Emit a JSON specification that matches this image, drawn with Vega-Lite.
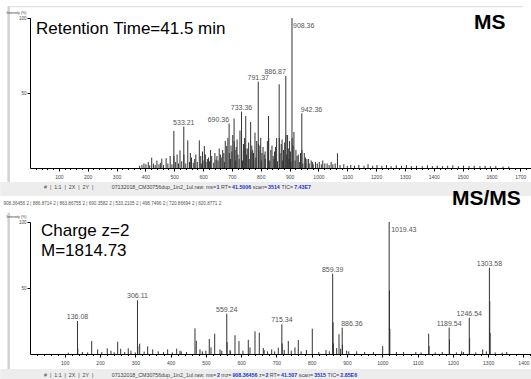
{
  "$schema": "https://vega.github.io/schema/vega-lite/v6.json",
  "background": "white",
  "padding": {"left": 0, "top": 5, "right": 0, "bottom": 0},
  "autosize": {"type": "pad"},
  "bounds": "flush",
  "spacing": 54,
  "config": {"view": {"stroke": null}, "font": "Liberation Sans"},
  "datasets": {
    "ms": [
      {"mz": 533.21, "i": 27.6, "lab": "533.21"},
      {"mz": 690.36, "i": 29.6, "lab": "690.36"},
      {"mz": 733.36, "i": 37.6, "lab": "733.36"},
      {"mz": 791.37, "i": 57.6, "lab": "791.37"},
      {"mz": 886.87, "i": 61.3, "lab": "886.87"},
      {"mz": 908.36, "i": 100, "lab": "908.36"},
      {"mz": 942.36, "i": 36.4, "lab": "942.36"},
      {"mz": 863.87, "i": 55.8}, {"mz": 498.75, "i": 24.7}, {"mz": 520, "i": 11.8},
      {"mz": 547, "i": 18.4}, {"mz": 587, "i": 18.4}, {"mz": 604.5, "i": 14.7},
      {"mz": 645, "i": 5.6}, {"mz": 682, "i": 14.7}, {"mz": 707.5, "i": 33},
      {"mz": 720.87, "i": 9}, {"mz": 748, "i": 34.7}, {"mz": 765, "i": 30.7},
      {"mz": 780, "i": 23.6}, {"mz": 804, "i": 10}, {"mz": 827, "i": 34.7},
      {"mz": 1066, "i": 9.8}, {"mz": 422, "i": 6.9}, {"mz": 457, "i": 6.2}, {"mz": 472, "i": 6.6},
      {"mz": 908.86, "i": 20}, {"mz": 887.37, "i": 22}, {"mz": 864.37, "i": 20},
      {"mz": 791.87, "i": 16}, {"mz": 733.86, "i": 12}, {"mz": 690.86, "i": 10},
      {"mz": 533.71, "i": 9}, {"mz": 942.86, "i": 12}, {"mz": 748.5, "i": 13},
      {"mz": 707.9, "i": 18}, {"mz": 827.5, "i": 20}, {"mz": 765.5, "i": 11}, {"mz": 499.25, "i": 8},
      {"mz": 395, "i": 3}, {"mz": 410, "i": 4}, {"mz": 440, "i": 5}, {"mz": 486, "i": 8},
      {"mz": 510, "i": 9}, {"mz": 560, "i": 7}, {"mz": 575, "i": 9}, {"mz": 615, "i": 6},
      {"mz": 630, "i": 8}, {"mz": 660, "i": 9}, {"mz": 668, "i": 12}, {"mz": 700, "i": 11},
      {"mz": 715, "i": 14}, {"mz": 740, "i": 16}, {"mz": 755, "i": 13}, {"mz": 772, "i": 12},
      {"mz": 786, "i": 18}, {"mz": 797, "i": 15}, {"mz": 812, "i": 9}, {"mz": 835, "i": 12},
      {"mz": 843, "i": 8}, {"mz": 851, "i": 14}, {"mz": 871, "i": 16}, {"mz": 879, "i": 12},
      {"mz": 893, "i": 22}, {"mz": 900, "i": 18}, {"mz": 915, "i": 24}, {"mz": 922, "i": 12},
      {"mz": 930, "i": 9}, {"mz": 951, "i": 10}, {"mz": 960, "i": 6}, {"mz": 975, "i": 5},
      {"mz": 990, "i": 4}, {"mz": 1003, "i": 4}, {"mz": 1015, "i": 5}, {"mz": 1030, "i": 3},
      {"mz": 1044, "i": 4}, {"mz": 1058, "i": 3},
      {"mz": 556, "i": 10}, {"mz": 571, "i": 6}, {"mz": 592, "i": 8}, {"mz": 598, "i": 11},
      {"mz": 608, "i": 9}, {"mz": 619, "i": 7}, {"mz": 626, "i": 12}, {"mz": 641, "i": 10},
      {"mz": 648, "i": 8}, {"mz": 656, "i": 13}, {"mz": 663, "i": 7}, {"mz": 672, "i": 10},
      {"mz": 677, "i": 18}, {"mz": 686, "i": 20}, {"mz": 697, "i": 15}, {"mz": 703, "i": 22},
      {"mz": 711, "i": 12}, {"mz": 718, "i": 19}, {"mz": 728, "i": 25}, {"mz": 744, "i": 20},
      {"mz": 751, "i": 9}, {"mz": 758, "i": 17}, {"mz": 769, "i": 15}, {"mz": 775, "i": 10},
      {"mz": 793, "i": 12}, {"mz": 800, "i": 20}, {"mz": 808, "i": 14}, {"mz": 815, "i": 11},
      {"mz": 823, "i": 18}, {"mz": 839, "i": 15}, {"mz": 848, "i": 11}, {"mz": 855, "i": 20},
      {"mz": 867, "i": 10}, {"mz": 874, "i": 19}, {"mz": 883, "i": 17}, {"mz": 890, "i": 9},
      {"mz": 897, "i": 13}, {"mz": 903, "i": 11}, {"mz": 912, "i": 15}, {"mz": 926, "i": 8},
      {"mz": 938, "i": 10}, {"mz": 955, "i": 7}, {"mz": 966, "i": 6}, {"mz": 979, "i": 4},
      {"mz": 380, "i": 1.5}, {"mz": 388, "i": 2}, {"mz": 402, "i": 2.5}, {"mz": 415, "i": 1.8},
      {"mz": 428, "i": 3}, {"mz": 434, "i": 2}, {"mz": 447, "i": 2.5}, {"mz": 452, "i": 3.5},
      {"mz": 463, "i": 2}, {"mz": 478, "i": 3}, {"mz": 492, "i": 2.5}, {"mz": 505, "i": 4},
      {"mz": 515, "i": 3}, {"mz": 526, "i": 4.5}, {"mz": 540, "i": 3}, {"mz": 553, "i": 4},
      {"mz": 566, "i": 3.5}, {"mz": 580, "i": 4}, {"mz": 594, "i": 3}, {"mz": 600, "i": 5},
      {"mz": 610, "i": 4}, {"mz": 622, "i": 4.5}, {"mz": 637, "i": 3.5}, {"mz": 652, "i": 5},
      {"mz": 674, "i": 4}, {"mz": 695, "i": 6}, {"mz": 712, "i": 5}, {"mz": 725, "i": 6},
      {"mz": 737, "i": 5}, {"mz": 760, "i": 6}, {"mz": 776, "i": 5}, {"mz": 783, "i": 7},
      {"mz": 802, "i": 5}, {"mz": 816, "i": 6}, {"mz": 831, "i": 5}, {"mz": 846, "i": 6},
      {"mz": 858, "i": 4.5}, {"mz": 876, "i": 5}, {"mz": 897.5, "i": 6}, {"mz": 905, "i": 4},
      {"mz": 919, "i": 5}, {"mz": 935, "i": 4}, {"mz": 946, "i": 3}, {"mz": 956, "i": 3.5},
      {"mz": 968, "i": 3}, {"mz": 982, "i": 2.5}, {"mz": 996, "i": 3}, {"mz": 1010, "i": 2.5},
      {"mz": 1022, "i": 3}, {"mz": 1037, "i": 2}, {"mz": 1050, "i": 2.5}, {"mz": 1075, "i": 2},
      {"mz": 1088, "i": 2.5}, {"mz": 1100, "i": 1.5}, {"mz": 1112, "i": 2}, {"mz": 1125, "i": 1.5},
      {"mz": 1140, "i": 2}, {"mz": 1158, "i": 1.5}, {"mz": 1172, "i": 2.5}, {"mz": 1188, "i": 1.5},
      {"mz": 1203, "i": 2}, {"mz": 1220, "i": 1.5}, {"mz": 1236, "i": 2}, {"mz": 1252, "i": 1.2},
      {"mz": 1270, "i": 1.8}, {"mz": 1288, "i": 1.5}, {"mz": 1305, "i": 2}, {"mz": 1322, "i": 1.3},
      {"mz": 1340, "i": 1.5}, {"mz": 1360, "i": 1.2}, {"mz": 1378, "i": 1.8}, {"mz": 1395, "i": 1.3},
      {"mz": 1412, "i": 1.6}, {"mz": 1430, "i": 1.2}, {"mz": 1448, "i": 1.5}, {"mz": 1466, "i": 1.8},
      {"mz": 1485, "i": 1.2}, {"mz": 1503, "i": 1.6}, {"mz": 1522, "i": 1.3}, {"mz": 1540, "i": 1.5},
      {"mz": 1560, "i": 1.2}, {"mz": 1578, "i": 1.4}, {"mz": 1596, "i": 1.1}, {"mz": 1615, "i": 1.3},
      {"mz": 1640, "i": 1}, {"mz": 1660, "i": 1}
    ],
    "msms": [
      {"mz": 136.08, "i": 25, "lab": "136.08"},
      {"mz": 306.11, "i": 40.7, "lab": "306.11"},
      {"mz": 559.24, "i": 30.5, "lab": "559.24"},
      {"mz": 715.34, "i": 22.5, "lab": "715.34"},
      {"mz": 859.39, "i": 60.8, "lab": "859.39"},
      {"mz": 886.36, "i": 20, "lab": "886.36"},
      {"mz": 1019.43, "i": 100, "lab": "1019.43"},
      {"mz": 1189.54, "i": 20, "lab": "1189.54"},
      {"mz": 1246.54, "i": 27.5, "lab": "1246.54"},
      {"mz": 1303.58, "i": 65.4, "lab": "1303.58"},
      {"mz": 176.3, "i": 9.8}, {"mz": 193.3, "i": 3.5}, {"mz": 220.5, "i": 4.3}, {"mz": 231, "i": 2.5},
      {"mz": 250, "i": 9.3}, {"mz": 258.5, "i": 4}, {"mz": 280, "i": 4.3}, {"mz": 287.7, "i": 2.5},
      {"mz": 312.4, "i": 7.8}, {"mz": 335, "i": 5.8}, {"mz": 349.2, "i": 3.5}, {"mz": 365, "i": 2},
      {"mz": 391.7, "i": 3.5}, {"mz": 417.2, "i": 4}, {"mz": 426.6, "i": 2.5}, {"mz": 469.1, "i": 19.4},
      {"mz": 472.8, "i": 10}, {"mz": 483.3, "i": 3.5}, {"mz": 509.6, "i": 11.4}, {"mz": 514.5, "i": 5},
      {"mz": 525, "i": 15.4}, {"mz": 540, "i": 3.5}, {"mz": 568.3, "i": 3}, {"mz": 582.5, "i": 14.2},
      {"mz": 593.8, "i": 9.8}, {"mz": 620.2, "i": 10.8}, {"mz": 625, "i": 5}, {"mz": 639.2, "i": 17.2},
      {"mz": 651.4, "i": 16.2}, {"mz": 662.7, "i": 4.5}, {"mz": 686.5, "i": 3.5}, {"mz": 705.2, "i": 4.8},
      {"mz": 733.6, "i": 9.8}, {"mz": 752.5, "i": 5}, {"mz": 761.9, "i": 10.6}, {"mz": 801.6, "i": 19.2},
      {"mz": 840.4, "i": 3}, {"mz": 870.7, "i": 4.5}, {"mz": 877.3, "i": 14.9}, {"mz": 899, "i": 2.5},
      {"mz": 927.4, "i": 2}, {"mz": 1001.1, "i": 6}, {"mz": 1131.5, "i": 15.4}, {"mz": 1225, "i": 2},
      {"mz": 1284.6, "i": 3.5}, {"mz": 1352.6, "i": 1.5},
      {"mz": 1020.43, "i": 48}, {"mz": 1021.43, "i": 19}, {"mz": 1304.58, "i": 40}, {"mz": 1305.58, "i": 16},
      {"mz": 860.39, "i": 24}, {"mz": 861.39, "i": 8}, {"mz": 1247.54, "i": 12}, {"mz": 1190.54, "i": 11},
      {"mz": 560.24, "i": 9}, {"mz": 307.11, "i": 6}, {"mz": 137.08, "i": 4}, {"mz": 716.34, "i": 8},
      {"mz": 887.36, "i": 7}, {"mz": 1132.5, "i": 6},
      {"mz": 110, "i": 1}, {"mz": 150, "i": 1.5}, {"mz": 165, "i": 1.2}, {"mz": 205, "i": 1.5},
      {"mz": 240, "i": 1.3}, {"mz": 270, "i": 1.5}, {"mz": 300, "i": 1.2}, {"mz": 325, "i": 1.8},
      {"mz": 380, "i": 1.5}, {"mz": 405, "i": 1.2}, {"mz": 430, "i": 2}, {"mz": 445, "i": 1.5},
      {"mz": 490, "i": 2}, {"mz": 500, "i": 2.5}, {"mz": 545, "i": 2.5}, {"mz": 570, "i": 2},
      {"mz": 605, "i": 2.5}, {"mz": 665, "i": 3}, {"mz": 675, "i": 2}, {"mz": 695, "i": 2},
      {"mz": 722, "i": 3}, {"mz": 742, "i": 2.5}, {"mz": 770, "i": 2}, {"mz": 785, "i": 3},
      {"mz": 820, "i": 1.5}, {"mz": 850, "i": 2}, {"mz": 882, "i": 4}, {"mz": 905, "i": 2},
      {"mz": 950, "i": 1.5}, {"mz": 975, "i": 1.5}, {"mz": 1040, "i": 1.5}, {"mz": 1060, "i": 1.5},
      {"mz": 1095, "i": 1.5}, {"mz": 1110, "i": 1.2}, {"mz": 1150, "i": 1.2}, {"mz": 1170, "i": 1.5},
      {"mz": 1210, "i": 1.2}, {"mz": 1230, "i": 1.5}, {"mz": 1265, "i": 1.2}, {"mz": 1295, "i": 2},
      {"mz": 1320, "i": 1.2}, {"mz": 1340, "i": 1}
    ]
  },
  "vconcat": [
    {
      "width": 501,
      "height": 150,
      "resolve": {"axis": {"x": "independent"}},
      "layer": [
        {
          "data": {"name": "ms"},
          "mark": {"type": "rule", "color": "#333333", "strokeWidth": 1},
          "encoding": {
            "x": {"field": "mz", "type": "quantitative", "scale": {"domain": [0, 1737], "nice": false, "zero": false},
              "axis": {"orient": "bottom", "values": [100, 200, 300, 400, 500, 600, 700, 800, 900, 1000, 1100, 1200, 1300, 1400, 1500, 1600, 1700],
                "format": "d", "title": null, "labelFontSize": 5, "labelColor": "#444", "tickColor": "#000", "tickSize": 3,
                "domainColor": "#000", "domainWidth": 1.2, "labelPadding": 3, "grid": false, "zindex": 1,
                "labelFlush": false, "labelOverlap": false}},
            "y": {"field": "i", "type": "quantitative", "scale": {"domain": [0, 100], "nice": false},
              "axis": {"values": [50, 100], "title": "Intensity (%)", "titleAngle": 0, "titleAlign": "left",
                "titleBaseline": "top", "titleX": -24, "titleY": -7.7, "titleFontSize": 3.6, "titleFontWeight": "normal",
                "titleColor": "#333", "labelFontSize": 4.5, "labelColor": "#444", "tickSize": 3, "tickColor": "#000",
                "domainColor": "#000", "grid": false, "labelPadding": 1, "zindex": 1}},
            "y2": {"datum": 0}
          }
        },
        {
          "data": {"values": [{}]},
          "mark": {"type": "rect", "color": "#ededed"},
          "encoding": {
            "x": {"datum": -103, "type": "quantitative", "scale": {"domain": [0, 1737], "nice": false, "zero": false},
              "axis": {"orient": "bottom", "values": [20, 40, 60, 80, 120, 140, 160, 180, 220, 240, 260, 280, 320, 340, 360, 380, 420, 440, 460, 480, 520, 540, 560, 580, 620, 640, 660, 680, 720, 740, 760, 780, 820, 840, 860, 880, 920, 940, 960, 980, 1020, 1040, 1060, 1080, 1120, 1140, 1160, 1180, 1220, 1240, 1260, 1280, 1320, 1340, 1360, 1380, 1420, 1440, 1460, 1480, 1520, 1540, 1560, 1580, 1620, 1640, 1660, 1680, 1720],
                "title": null, "labels": false, "domain": false, "grid": false, "tickSize": 1.5, "tickColor": "#000", "zindex": 1}},
            "x2": {"datum": 1737},
            "y": {"datum": -9.3, "type": "quantitative", "scale": {"domain": [0, 100], "nice": false}},
            "y2": {"datum": -18.7}
          }
        },
        {
          "data": {"values": [{}]},
          "mark": {"type": "rule", "color": "#dcdcdc", "strokeWidth": 1},
          "encoding": {
            "x": {"datum": -76, "type": "quantitative", "scale": {"domain": [0, 1737], "nice": false, "zero": false}, "axis": null},
            "x2": {"datum": 1709},
            "y": {"datum": 107.53, "type": "quantitative", "scale": {"domain": [0, 100], "nice": false}}
          }
        },
        {
          "data": {"values": [{}]},
          "mark": {"type": "rule", "color": "#d2d2d2", "strokeWidth": 2.5},
          "encoding": {
            "x": {"datum": -74, "type": "quantitative", "scale": {"domain": [0, 1737], "nice": false, "zero": false}, "axis": null},
            "y": {"datum": 107.53, "type": "quantitative", "scale": {"domain": [0, 100], "nice": false}},
            "y2": {"datum": -9.3}
          }
        },
        {
          "data": {"name": "ms"},
          "transform": [{"filter": {"field": "lab", "oneOf": ["533.21", "733.36", "791.37"]}}],
          "mark": {"type": "text", "align": "center", "baseline": "alphabetic", "dy": -2, "fontSize": 7, "color": "#555"},
          "encoding": {
            "x": {"field": "mz", "type": "quantitative", "scale": {"domain": [0, 1737], "nice": false, "zero": false}, "axis": null},
            "y": {"field": "i", "type": "quantitative", "scale": {"domain": [0, 100], "nice": false}},
            "text": {"field": "lab"}
          }
        },
        {
          "data": {"name": "ms"},
          "transform": [{"filter": {"field": "lab", "oneOf": ["690.36", "886.87"]}}],
          "mark": {"type": "text", "align": "right", "baseline": "alphabetic", "dy": -2, "dx": 0, "fontSize": 7, "color": "#555"},
          "encoding": {
            "x": {"field": "mz", "type": "quantitative", "scale": {"domain": [0, 1737], "nice": false, "zero": false}, "axis": null},
            "y": {"field": "i", "type": "quantitative", "scale": {"domain": [0, 100], "nice": false}},
            "text": {"field": "lab"}
          }
        },
        {
          "data": {"name": "ms"},
          "transform": [{"filter": {"field": "lab", "oneOf": ["942.36"]}}],
          "mark": {"type": "text", "align": "left", "baseline": "alphabetic", "dy": -1, "dx": -1, "fontSize": 7, "color": "#555"},
          "encoding": {
            "x": {"field": "mz", "type": "quantitative", "scale": {"domain": [0, 1737], "nice": false, "zero": false}, "axis": null},
            "y": {"field": "i", "type": "quantitative", "scale": {"domain": [0, 100], "nice": false}},
            "text": {"field": "lab"}
          }
        },
        {
          "data": {"name": "ms"},
          "transform": [{"filter": {"field": "lab", "oneOf": ["908.36"]}}],
          "mark": {"type": "text", "align": "left", "baseline": "top", "dy": 4, "dx": 1, "fontSize": 7, "color": "#555"},
          "encoding": {
            "x": {"field": "mz", "type": "quantitative", "scale": {"domain": [0, 1737], "nice": false, "zero": false}, "axis": null},
            "y": {"field": "i", "type": "quantitative", "scale": {"domain": [0, 100], "nice": false}},
            "text": {"field": "lab"}
          }
        },
        {
          "data": {"values": [{}]},
          "mark": {"type": "text", "text": "Retention Time=41.5 min", "align": "left", "baseline": "alphabetic", "fontSize": 17, "color": "#000"},
          "encoding": {
            "x": {"datum": 20.8, "type": "quantitative", "scale": {"domain": [0, 1737], "nice": false, "zero": false}, "axis": null},
            "y": {"datum": 89.3, "type": "quantitative", "scale": {"domain": [0, 100], "nice": false}}
          }
        },
        {
          "data": {"values": [{}]},
          "mark": {"type": "text", "text": "MS", "align": "left", "baseline": "alphabetic", "fontSize": 21, "fontWeight": "bold", "color": "#000"},
          "encoding": {
            "x": {"datum": 1539, "type": "quantitative", "scale": {"domain": [0, 1737], "nice": false, "zero": false}, "axis": null},
            "y": {"datum": 92.9, "type": "quantitative", "scale": {"domain": [0, 100], "nice": false}}
          }
        },
        {
          "data": {"values": [{}]},
          "mark": {"type": "text", "text": "#\u00a0\u00a0|\u00a0\u00a01:1\u00a0\u00a0|\u00a0\u00a02X\u00a0\u00a0|\u00a0\u00a02Y\u00a0\u00a0|", "align": "left", "baseline": "middle", "fontSize": 5.3, "color": "#444"},
          "encoding": {
            "x": {"datum": 48.5, "type": "quantitative", "scale": {"domain": [0, 1737], "nice": false, "zero": false}, "axis": null},
            "y": {"datum": -12.7, "type": "quantitative", "scale": {"domain": [0, 100], "nice": false}}
          }
        },
        {
          "data": {"values": [{}]},
          "mark": {"type": "text", "text": "07132018_CM30756dup_1in2_1ul.raw: ms=", "align": "left", "baseline": "middle", "fontSize": 5.3, "color": "#444"},
          "encoding": {
            "x": {"datum": 283.3, "type": "quantitative", "scale": {"domain": [0, 1737], "nice": false, "zero": false}, "axis": null},
            "y": {"datum": -12.7, "type": "quantitative", "scale": {"domain": [0, 100], "nice": false}}
          }
        },
        {
          "data": {"values": [{}]},
          "mark": {"type": "text", "text": "1", "align": "left", "baseline": "middle", "fontSize": 5.3, "fontWeight": "bold", "color": "#2233cc"},
          "encoding": {
            "x": {"datum": 646.6, "type": "quantitative", "scale": {"domain": [0, 1737], "nice": false, "zero": false}, "axis": null},
            "y": {"datum": -12.7, "type": "quantitative", "scale": {"domain": [0, 100], "nice": false}}
          }
        },
        {
          "data": {"values": [{}]},
          "mark": {"type": "text", "text": "RT=", "align": "left", "baseline": "middle", "fontSize": 5.3, "color": "#444"},
          "encoding": {
            "x": {"datum": 662, "type": "quantitative", "scale": {"domain": [0, 1737], "nice": false, "zero": false}, "axis": null},
            "y": {"datum": -12.7, "type": "quantitative", "scale": {"domain": [0, 100], "nice": false}}
          }
        },
        {
          "data": {"values": [{}]},
          "mark": {"type": "text", "text": "41.5006", "align": "left", "baseline": "middle", "fontSize": 5.3, "fontWeight": "bold", "color": "#2233cc"},
          "encoding": {
            "x": {"datum": 700.4, "type": "quantitative", "scale": {"domain": [0, 1737], "nice": false, "zero": false}, "axis": null},
            "y": {"datum": -12.7, "type": "quantitative", "scale": {"domain": [0, 100], "nice": false}}
          }
        },
        {
          "data": {"values": [{}]},
          "mark": {"type": "text", "text": "scan=", "align": "left", "baseline": "middle", "fontSize": 5.3, "color": "#444"},
          "encoding": {
            "x": {"datum": 772.4, "type": "quantitative", "scale": {"domain": [0, 1737], "nice": false, "zero": false}, "axis": null},
            "y": {"datum": -12.7, "type": "quantitative", "scale": {"domain": [0, 100], "nice": false}}
          }
        },
        {
          "data": {"values": [{}]},
          "mark": {"type": "text", "text": "3514", "align": "left", "baseline": "middle", "fontSize": 5.3, "fontWeight": "bold", "color": "#2233cc"},
          "encoding": {
            "x": {"datum": 825.2, "type": "quantitative", "scale": {"domain": [0, 1737], "nice": false, "zero": false}, "axis": null},
            "y": {"datum": -12.7, "type": "quantitative", "scale": {"domain": [0, 100], "nice": false}}
          }
        },
        {
          "data": {"values": [{}]},
          "mark": {"type": "text", "text": "TIC=", "align": "left", "baseline": "middle", "fontSize": 5.3, "color": "#444"},
          "encoding": {
            "x": {"datum": 871.8, "type": "quantitative", "scale": {"domain": [0, 1737], "nice": false, "zero": false}, "axis": null},
            "y": {"datum": -12.7, "type": "quantitative", "scale": {"domain": [0, 100], "nice": false}}
          }
        },
        {
          "data": {"values": [{}]},
          "mark": {"type": "text", "text": "7.43E7", "align": "left", "baseline": "middle", "fontSize": 5.3, "fontWeight": "bold", "color": "#2233cc"},
          "encoding": {
            "x": {"datum": 916, "type": "quantitative", "scale": {"domain": [0, 1737], "nice": false, "zero": false}, "axis": null},
            "y": {"datum": -12.7, "type": "quantitative", "scale": {"domain": [0, 100], "nice": false}}
          }
        }
      ]
    },
    {
      "width": 501,
      "height": 132,
      "resolve": {"axis": {"x": "independent"}},
      "layer": [
        {
          "data": {"name": "msms"},
          "mark": {"type": "rule", "color": "#333333", "strokeWidth": 1},
          "encoding": {
            "x": {"field": "mz", "type": "quantitative", "scale": {"domain": [1.5, 1421.5], "nice": false, "zero": false},
              "axis": {"orient": "bottom", "values": [100, 200, 300, 400, 500, 600, 700, 800, 900, 1000, 1100, 1200, 1300, 1400],
                "format": "d", "title": null, "labelFontSize": 5, "labelColor": "#444", "tickColor": "#000", "tickSize": 3,
                "domainColor": "#000", "domainWidth": 1.2, "labelPadding": 3, "grid": false, "zindex": 1,
                "labelFlush": false, "labelOverlap": false}},
            "y": {"field": "i", "type": "quantitative", "scale": {"domain": [0, 100], "nice": false},
              "axis": {"values": [50, 100], "title": "Intensity (%)", "titleAngle": 0, "titleAlign": "left",
                "titleBaseline": "top", "titleX": -24, "titleY": -7.7, "titleFontSize": 3.6, "titleFontWeight": "normal",
                "titleColor": "#333", "labelFontSize": 4.5, "labelColor": "#444", "tickSize": 3, "tickColor": "#000",
                "domainColor": "#000", "grid": false, "labelPadding": 1, "zindex": 1}},
            "y2": {"datum": 0}
          }
        },
        {
          "data": {"values": [{}]},
          "mark": {"type": "rect", "color": "#ededed"},
          "encoding": {
            "x": {"datum": -82.7, "type": "quantitative", "scale": {"domain": [1.5, 1421.5], "nice": false, "zero": false},
              "axis": {"orient": "bottom", "values": [20, 40, 60, 80, 120, 140, 160, 180, 220, 240, 260, 280, 320, 340, 360, 380, 420, 440, 460, 480, 520, 540, 560, 580, 620, 640, 660, 680, 720, 740, 760, 780, 820, 840, 860, 880, 920, 940, 960, 980, 1020, 1040, 1060, 1080, 1120, 1140, 1160, 1180, 1220, 1240, 1260, 1280, 1320, 1340, 1360, 1380, 1420],
                "title": null, "labels": false, "domain": false, "grid": false, "tickSize": 1.5, "tickColor": "#000", "zindex": 1}},
            "x2": {"datum": 1421.5},
            "y": {"datum": -11.4, "type": "quantitative", "scale": {"domain": [0, 100], "nice": false}},
            "y2": {"datum": -19.8}
          }
        },
        {
          "data": {"values": [{}]},
          "mark": {"type": "rule", "color": "#d2d2d2", "strokeWidth": 2.5},
          "encoding": {
            "x": {"datum": -58.9, "type": "quantitative", "scale": {"domain": [1.5, 1421.5], "nice": false, "zero": false}, "axis": null},
            "y": {"datum": 107, "type": "quantitative", "scale": {"domain": [0, 100], "nice": false}},
            "y2": {"datum": -11.4}
          }
        },
        {
          "data": {"name": "msms"},
          "transform": [{"filter": {"field": "lab", "oneOf": ["136.08", "306.11", "559.24", "715.34", "859.39", "1189.54", "1246.54", "1303.58"]}}],
          "mark": {"type": "text", "align": "center", "baseline": "alphabetic", "dy": -2, "fontSize": 7, "color": "#555"},
          "encoding": {
            "x": {"field": "mz", "type": "quantitative", "scale": {"domain": [1.5, 1421.5], "nice": false, "zero": false}, "axis": null},
            "y": {"field": "i", "type": "quantitative", "scale": {"domain": [0, 100], "nice": false}},
            "text": {"field": "lab"}
          }
        },
        {
          "data": {"name": "msms"},
          "transform": [{"filter": {"field": "lab", "oneOf": ["886.36"]}}],
          "mark": {"type": "text", "align": "left", "baseline": "alphabetic", "dy": -2, "dx": -1, "fontSize": 7, "color": "#555"},
          "encoding": {
            "x": {"field": "mz", "type": "quantitative", "scale": {"domain": [1.5, 1421.5], "nice": false, "zero": false}, "axis": null},
            "y": {"field": "i", "type": "quantitative", "scale": {"domain": [0, 100], "nice": false}},
            "text": {"field": "lab"}
          }
        },
        {
          "data": {"name": "msms"},
          "transform": [{"filter": {"field": "lab", "oneOf": ["1019.43"]}}],
          "mark": {"type": "text", "align": "left", "baseline": "top", "dy": 4, "dx": 2, "fontSize": 7, "color": "#555"},
          "encoding": {
            "x": {"field": "mz", "type": "quantitative", "scale": {"domain": [1.5, 1421.5], "nice": false, "zero": false}, "axis": null},
            "y": {"field": "i", "type": "quantitative", "scale": {"domain": [0, 100], "nice": false}},
            "text": {"field": "lab"}
          }
        },
        {
          "data": {"values": [{}]},
          "mark": {"type": "text", "text": "Charge z=2", "align": "left", "baseline": "alphabetic", "fontSize": 17, "color": "#000"},
          "encoding": {
            "x": {"datum": 32.7, "type": "quantitative", "scale": {"domain": [1.5, 1421.5], "nice": false, "zero": false}, "axis": null},
            "y": {"datum": 89.4, "type": "quantitative", "scale": {"domain": [0, 100], "nice": false}}
          }
        },
        {
          "data": {"values": [{}]},
          "mark": {"type": "text", "text": "M=1814.73", "align": "left", "baseline": "alphabetic", "fontSize": 17, "color": "#000"},
          "encoding": {
            "x": {"datum": 32.7, "type": "quantitative", "scale": {"domain": [1.5, 1421.5], "nice": false, "zero": false}, "axis": null},
            "y": {"datum": 74.2, "type": "quantitative", "scale": {"domain": [0, 100], "nice": false}}
          }
        },
        {
          "data": {"values": [{}]},
          "mark": {"type": "text", "text": "MS/MS", "align": "left", "baseline": "alphabetic", "fontSize": 21, "fontWeight": "bold", "color": "#000"},
          "encoding": {
            "x": {"datum": 1197.6, "type": "quantitative", "scale": {"domain": [1.5, 1421.5], "nice": false, "zero": false}, "axis": null},
            "y": {"datum": 112.9, "type": "quantitative", "scale": {"domain": [0, 100], "nice": false}}
          }
        },
        {
          "data": {"values": [{}]},
          "mark": {"type": "text", "text": "908.36456 2 | 886.8714 2 | 863.86755 2 | 690.3582 2 | 533.2105 2 | 498.7496 2 | 720.86694 2 | 820.8771 2", "align": "left", "baseline": "middle", "fontSize": 4.6, "color": "#555"},
          "encoding": {
            "x": {"datum": -73.9, "type": "quantitative", "scale": {"domain": [1.5, 1421.5], "nice": false, "zero": false}, "axis": null},
            "y": {"datum": 114, "type": "quantitative", "scale": {"domain": [0, 100], "nice": false}}
          }
        },
        {
          "data": {"values": [{}]},
          "mark": {"type": "text", "text": "#\u00a0\u00a0|\u00a0\u00a01:1\u00a0\u00a0|\u00a0\u00a02X\u00a0\u00a0|\u00a0\u00a02Y\u00a0\u00a0|", "align": "left", "baseline": "middle", "fontSize": 5.3, "color": "#444"},
          "encoding": {
            "x": {"datum": 41.2, "type": "quantitative", "scale": {"domain": [1.5, 1421.5], "nice": false, "zero": false}, "axis": null},
            "y": {"datum": -15.9, "type": "quantitative", "scale": {"domain": [0, 100], "nice": false}}
          }
        },
        {
          "data": {"values": [{}]},
          "mark": {"type": "text", "text": "07132018_CM30756dup_1in2_1ul.raw: ms=", "align": "left", "baseline": "middle", "fontSize": 5.3, "color": "#444"},
          "encoding": {
            "x": {"datum": 233.1, "type": "quantitative", "scale": {"domain": [1.5, 1421.5], "nice": false, "zero": false}, "axis": null},
            "y": {"datum": -15.9, "type": "quantitative", "scale": {"domain": [0, 100], "nice": false}}
          }
        },
        {
          "data": {"values": [{}]},
          "mark": {"type": "text", "text": "2", "align": "left", "baseline": "middle", "fontSize": 5.3, "fontWeight": "bold", "color": "#2233cc"},
          "encoding": {
            "x": {"datum": 531.5, "type": "quantitative", "scale": {"domain": [1.5, 1421.5], "nice": false, "zero": false}, "axis": null},
            "y": {"datum": -15.9, "type": "quantitative", "scale": {"domain": [0, 100], "nice": false}}
          }
        },
        {
          "data": {"values": [{}]},
          "mark": {"type": "text", "text": "mz=", "align": "left", "baseline": "middle", "fontSize": 5.3, "color": "#444"},
          "encoding": {
            "x": {"datum": 543.7, "type": "quantitative", "scale": {"domain": [1.5, 1421.5], "nice": false, "zero": false}, "axis": null},
            "y": {"datum": -15.9, "type": "quantitative", "scale": {"domain": [0, 100], "nice": false}}
          }
        },
        {
          "data": {"values": [{}]},
          "mark": {"type": "text", "text": "908.36456", "align": "left", "baseline": "middle", "fontSize": 5.3, "fontWeight": "bold", "color": "#2233cc"},
          "encoding": {
            "x": {"datum": 575.2, "type": "quantitative", "scale": {"domain": [1.5, 1421.5], "nice": false, "zero": false}, "axis": null},
            "y": {"datum": -15.9, "type": "quantitative", "scale": {"domain": [0, 100], "nice": false}}
          }
        },
        {
          "data": {"values": [{}]},
          "mark": {"type": "text", "text": "z=", "align": "left", "baseline": "middle", "fontSize": 5.3, "color": "#444"},
          "encoding": {
            "x": {"datum": 650.6, "type": "quantitative", "scale": {"domain": [1.5, 1421.5], "nice": false, "zero": false}, "axis": null},
            "y": {"datum": -15.9, "type": "quantitative", "scale": {"domain": [0, 100], "nice": false}}
          }
        },
        {
          "data": {"values": [{}]},
          "mark": {"type": "text", "text": "2", "align": "left", "baseline": "middle", "fontSize": 5.3, "fontWeight": "bold", "color": "#2233cc"},
          "encoding": {
            "x": {"datum": 668.7, "type": "quantitative", "scale": {"domain": [1.5, 1421.5], "nice": false, "zero": false}, "axis": null},
            "y": {"datum": -15.9, "type": "quantitative", "scale": {"domain": [0, 100], "nice": false}}
          }
        },
        {
          "data": {"values": [{}]},
          "mark": {"type": "text", "text": "RT=", "align": "left", "baseline": "middle", "fontSize": 5.3, "color": "#444"},
          "encoding": {
            "x": {"datum": 681.2, "type": "quantitative", "scale": {"domain": [1.5, 1421.5], "nice": false, "zero": false}, "axis": null},
            "y": {"datum": -15.9, "type": "quantitative", "scale": {"domain": [0, 100], "nice": false}}
          }
        },
        {
          "data": {"values": [{}]},
          "mark": {"type": "text", "text": "41.507", "align": "left", "baseline": "middle", "fontSize": 5.3, "fontWeight": "bold", "color": "#2233cc"},
          "encoding": {
            "x": {"datum": 713, "type": "quantitative", "scale": {"domain": [1.5, 1421.5], "nice": false, "zero": false}, "axis": null},
            "y": {"datum": -15.9, "type": "quantitative", "scale": {"domain": [0, 100], "nice": false}}
          }
        },
        {
          "data": {"values": [{}]},
          "mark": {"type": "text", "text": "scan=", "align": "left", "baseline": "middle", "fontSize": 5.3, "color": "#444"},
          "encoding": {
            "x": {"datum": 763.4, "type": "quantitative", "scale": {"domain": [1.5, 1421.5], "nice": false, "zero": false}, "axis": null},
            "y": {"datum": -15.9, "type": "quantitative", "scale": {"domain": [0, 100], "nice": false}}
          }
        },
        {
          "data": {"values": [{}]},
          "mark": {"type": "text", "text": "3515", "align": "left", "baseline": "middle", "fontSize": 5.3, "fontWeight": "bold", "color": "#2233cc"},
          "encoding": {
            "x": {"datum": 807.1, "type": "quantitative", "scale": {"domain": [1.5, 1421.5], "nice": false, "zero": false}, "axis": null},
            "y": {"datum": -15.9, "type": "quantitative", "scale": {"domain": [0, 100], "nice": false}}
          }
        },
        {
          "data": {"values": [{}]},
          "mark": {"type": "text", "text": "TIC=", "align": "left", "baseline": "middle", "fontSize": 5.3, "color": "#444"},
          "encoding": {
            "x": {"datum": 844.7, "type": "quantitative", "scale": {"domain": [1.5, 1421.5], "nice": false, "zero": false}, "axis": null},
            "y": {"datum": -15.9, "type": "quantitative", "scale": {"domain": [0, 100], "nice": false}}
          }
        },
        {
          "data": {"values": [{}]},
          "mark": {"type": "text", "text": "2.85E6", "align": "left", "baseline": "middle", "fontSize": 5.3, "fontWeight": "bold", "color": "#2233cc"},
          "encoding": {
            "x": {"datum": 881, "type": "quantitative", "scale": {"domain": [1.5, 1421.5], "nice": false, "zero": false}, "axis": null},
            "y": {"datum": -15.9, "type": "quantitative", "scale": {"domain": [0, 100], "nice": false}}
          }
        }
      ]
    }
  ]
}
